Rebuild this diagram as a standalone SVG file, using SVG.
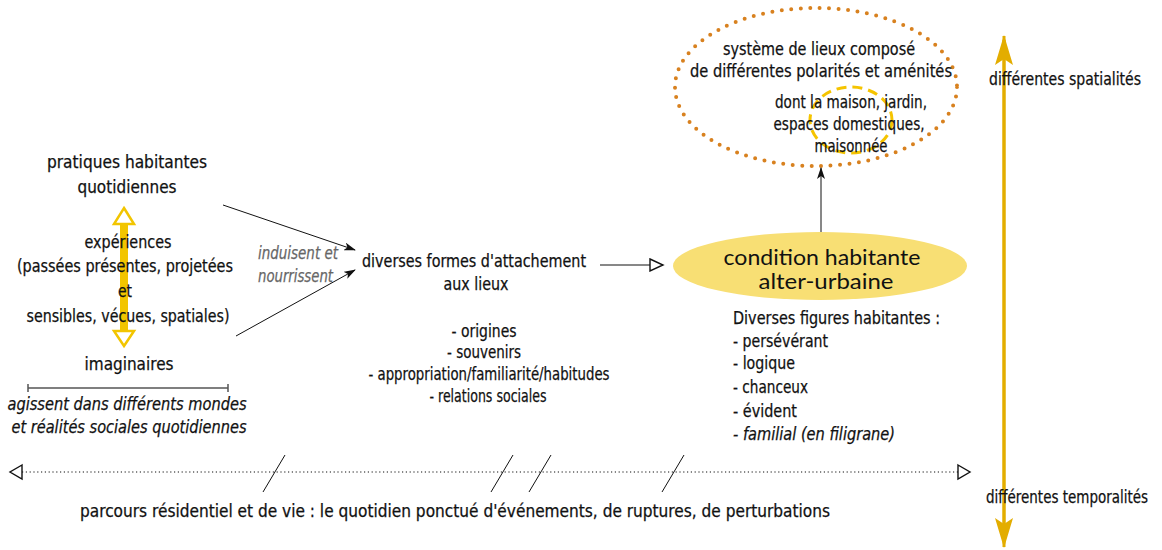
<svg xmlns="http://www.w3.org/2000/svg" width="1162" height="550" viewBox="0 0 1162 550">
<defs>
<style>
.t{font-family:"DejaVu Sans Condensed","DejaVu Sans",sans-serif;font-size:18px;fill:#111;stroke:#111;stroke-width:0.25;}
.c{text-anchor:middle;}
.i{font-style:italic;}
.g{fill:#666;stroke:#666;}
.big{font-family:"Lato","Noto Sans",sans-serif;font-size:21px;fill:#111;text-anchor:middle;}
.ln{stroke:#111;stroke-width:1;fill:none;}
</style>
<marker id="ah" markerWidth="12" markerHeight="8" refX="11" refY="4" orient="auto" markerUnits="userSpaceOnUse">
<path d="M0,0 L12,4 L0,8 L3,4 Z" fill="#111"/>
</marker>
<marker id="open" markerWidth="16" markerHeight="14" refX="14" refY="7" orient="auto" markerUnits="userSpaceOnUse">
<path d="M1,1 L14,7 L1,13 Z" fill="#fff" stroke="#111" stroke-width="1.4"/>
</marker>
<marker id="gold" markerWidth="30" markerHeight="18" refX="29" refY="9" orient="auto" markerUnits="userSpaceOnUse" viewBox="0 0 30 18">
<path d="M0,0 L30,9 L0,18 L6,9 Z" fill="#E3AD00"/>
</marker>
</defs>

<g id="systeme">
<ellipse cx="816" cy="87" rx="141" ry="79" fill="none" stroke="#D8811F" stroke-width="4" stroke-dasharray="0 9.5" stroke-linecap="round"/>
<ellipse cx="851" cy="120" rx="41" ry="33" fill="none" stroke="#F5C400" stroke-width="3" stroke-dasharray="10 6"/>
<text class="t c" x="819" y="55" textLength="192" lengthAdjust="spacingAndGlyphs">système de lieux composé</text>
<text class="t c" x="821" y="77" textLength="262" lengthAdjust="spacingAndGlyphs">de différentes polarités et aménités</text>
<text class="t c" x="851" y="108" textLength="152" lengthAdjust="spacingAndGlyphs">dont la maison, jardin,</text>
<text class="t c" x="849" y="130" textLength="151" lengthAdjust="spacingAndGlyphs">espaces  domestiques,</text>
<text class="t c" x="851" y="152" textLength="73" lengthAdjust="spacingAndGlyphs">maisonnée</text>
</g>

<g id="condition">
<ellipse cx="820" cy="266" rx="147" ry="34" fill="#F8DF74"/>
<text class="big" x="822" y="265" textLength="197" lengthAdjust="spacingAndGlyphs">condition habitante</text>
<text class="big" x="826" y="289" textLength="135" lengthAdjust="spacingAndGlyphs">alter-urbaine</text>
</g>

<g id="figures">
<text class="t" x="733" y="324" textLength="207" lengthAdjust="spacingAndGlyphs">Diverses figures habitantes :</text>
<text class="t" x="733" y="347" textLength="95" lengthAdjust="spacingAndGlyphs">- persévérant</text>
<text class="t" x="733" y="369" textLength="62" lengthAdjust="spacingAndGlyphs">- logique</text>
<text class="t" x="733" y="393" textLength="75" lengthAdjust="spacingAndGlyphs">- chanceux</text>
<text class="t" x="733" y="417" textLength="64" lengthAdjust="spacingAndGlyphs">- évident</text>
<text class="t i" x="733" y="440" textLength="162" lengthAdjust="spacingAndGlyphs">- familial (en filigrane)</text>
</g>

<g id="pratiques">
<text class="t c" x="127" y="168" textLength="160" lengthAdjust="spacingAndGlyphs">pratiques habitantes</text>
<text class="t c" x="127" y="193" textLength="99" lengthAdjust="spacingAndGlyphs">quotidiennes</text>
</g>

<g id="experiences">
<rect x="120" y="222" width="8" height="110" fill="#F2C500"/>
<path d="M124,208 L134,224 L114,224 Z" fill="#fff" stroke="#F2C500" stroke-width="2.5"/>
<path d="M124,346 L134,331 L114,331 Z" fill="#fff" stroke="#F2C500" stroke-width="2.5"/>
<text class="t c" x="128" y="248" textLength="87" lengthAdjust="spacingAndGlyphs">expériences</text>
<text class="t c" x="125" y="272" textLength="216" lengthAdjust="spacingAndGlyphs">(passées présentes, projetées</text>
<text class="t c" x="125" y="297" textLength="14" lengthAdjust="spacingAndGlyphs">et</text>
<text class="t c" x="128" y="322" textLength="203" lengthAdjust="spacingAndGlyphs">sensibles, vécues, spatiales)</text>
</g>

<g id="imaginaires">
<text class="t c" x="129" y="370" textLength="89" lengthAdjust="spacingAndGlyphs">imaginaires</text>
</g>

<g id="agissent">
<path d="M28,388 H228 M28,384 V392 M228,384 V392" stroke="#555" stroke-width="1.5" fill="none"/>
<text class="t c i" x="127" y="410" textLength="239" lengthAdjust="spacingAndGlyphs">agissent dans différents mondes</text>
<text class="t c i" x="129" y="433" textLength="235" lengthAdjust="spacingAndGlyphs">et réalités sociales quotidiennes</text>
</g>

<g id="induisent">
<text class="t i g" x="258" y="259" textLength="80" lengthAdjust="spacingAndGlyphs">induisent et</text>
<text class="t i g" x="258" y="282" textLength="75" lengthAdjust="spacingAndGlyphs">nourrissent</text>
</g>

<g id="attachement">
<text class="t c" x="474" y="267" textLength="224" lengthAdjust="spacingAndGlyphs">diverses formes d'attachement</text>
<text class="t c" x="476" y="290" textLength="65" lengthAdjust="spacingAndGlyphs">aux lieux</text>
<text class="t c" x="484" y="337" textLength="65" lengthAdjust="spacingAndGlyphs">- origines</text>
<text class="t c" x="484" y="358" textLength="74" lengthAdjust="spacingAndGlyphs">- souvenirs</text>
<text class="t c" x="489" y="380" textLength="241" lengthAdjust="spacingAndGlyphs">- appropriation/familiarité/habitudes</text>
<text class="t c" x="488" y="402" textLength="117" lengthAdjust="spacingAndGlyphs">- relations sociales</text>
</g>

<g id="parcours">
<text class="t" x="80" y="517" font-size="19" textLength="750" lengthAdjust="spacingAndGlyphs">parcours résidentiel et de vie : le quotidien ponctué d'événements, de ruptures, de perturbations</text>
</g>

<g id="axes">
<line x1="1004" y1="540" x2="1004" y2="36" stroke="#E3AD00" stroke-width="3" marker-end="url(#gold)"/>
<line x1="1004" y1="40" x2="1004" y2="547" stroke="#E3AD00" stroke-width="3" marker-end="url(#gold)"/>
<text class="t" x="989" y="85" textLength="152" lengthAdjust="spacingAndGlyphs">différentes spatialités</text>
<text class="t" x="986" y="503" textLength="162" lengthAdjust="spacingAndGlyphs">différentes temporalités</text>
</g>

<g id="connectors">
<line class="ln" x1="223" y1="205" x2="355" y2="250" marker-end="url(#ah)"/>
<line class="ln" x1="236" y1="336" x2="355" y2="270" marker-end="url(#ah)"/>
<line class="ln" x1="600" y1="265" x2="663" y2="265" stroke-width="1.4" marker-end="url(#open)"/>
<line class="ln" x1="821" y1="232" x2="821" y2="168" marker-end="url(#ah)"/>
<line x1="22" y1="472" x2="958" y2="472" stroke="#111" stroke-width="1.2" stroke-dasharray="1.2 2.6"/>
<path d="M22,465 L10,472 L22,479 Z" fill="#fff" stroke="#111" stroke-width="1.4"/>
<path d="M958,465 L970,472 L958,479 Z" fill="#fff" stroke="#111" stroke-width="1.4"/>
<line class="ln" x1="285" y1="455" x2="263" y2="492" stroke-width="1.2"/>
<line class="ln" x1="513" y1="455" x2="491" y2="492" stroke-width="1.2"/>
<line class="ln" x1="551" y1="455" x2="529" y2="492" stroke-width="1.2"/>
<line class="ln" x1="684" y1="455" x2="662" y2="492" stroke-width="1.2"/>
</g>
</svg>
